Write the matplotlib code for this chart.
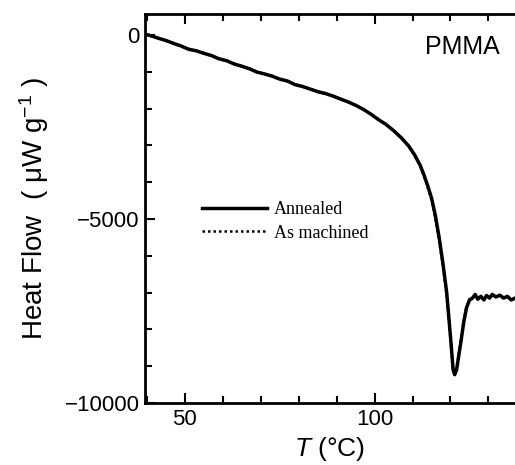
import numpy as np
import matplotlib.pyplot as plt
from matplotlib.ticker import MultipleLocator

plt.rcParams['font.family'] = ['Liberation Sans', 'DejaVu Sans']
plt.rcParams['mathtext.fontset'] = 'custom'
plt.rcParams['mathtext.rm'] = 'Liberation Sans'
plt.rcParams['mathtext.it'] = 'Liberation Sans:italic'

# DSC curves (T in degC, heat flow in uW/g)
temp = [39.5, 41, 43, 45, 47, 49, 51, 53, 55, 57, 59, 61, 63, 65, 67, 69, 71, 73,
        75, 77, 79, 81, 83, 85, 87, 89, 91, 93, 95, 97, 99, 101, 103, 105, 107, 109,
        110.5, 112, 113, 114, 115, 116, 117, 118, 119, 120, 120.7, 121.1, 121.6,
        122.2, 122.8, 123.5, 124.2, 125, 125.8, 126.5, 127.2, 128, 128.8, 129.5,
        130.3, 131, 132, 133, 134, 135, 136, 137]
annealed = [20, -20, -90, -150, -230, -300, -390, -430, -500, -560, -650, -700,
            -790, -850, -920, -1010, -1060, -1120, -1200, -1250, -1350, -1400,
            -1470, -1540, -1590, -1660, -1740, -1820, -1910, -2020, -2150, -2300,
            -2430, -2600, -2790, -3020, -3250, -3540, -3800, -4100, -4430, -4900,
            -5500, -6200, -7000, -8200, -9100, -9230, -9100, -8700, -8300, -7800,
            -7420, -7200, -7150, -7050, -7180, -7100, -7200, -7080, -7150, -7050,
            -7120, -7070, -7150, -7100, -7200, -7150]
as_machined = [10, -30, -80, -160, -220, -310, -380, -440, -490, -570, -640, -710,
               -780, -860, -910, -1000, -1070, -1110, -1210, -1260, -1340, -1410,
               -1460, -1550, -1600, -1650, -1750, -1810, -1920, -2010, -2160, -2290,
               -2440, -2590, -2800, -3030, -3270, -3560, -3830, -4150, -4480, -4980,
               -5580, -6280, -7080, -8250, -9120, -9200, -9060, -8650, -8250, -7760,
               -7400, -7190, -7120, -7080, -7150, -7120, -7170, -7100, -7130, -7080,
               -7100, -7090, -7130, -7120, -7180, -7160]

fig = plt.figure(figsize=(5.15, 4.65), dpi=100)
ax = fig.add_axes([0.2816, 0.1333, 0.7184, 0.8367])

ax.plot(temp, annealed, color='black', lw=2.5, solid_joinstyle='round', label='Annealed')
ax.plot(temp, as_machined, color='black', lw=1.8, linestyle=(0, (1, 1.2)), label='As machined')

ax.set_xlim(39.5, 137)
ax.set_ylim(-10000, 570)
ax.xaxis.set_major_locator(MultipleLocator(50))
ax.xaxis.set_minor_locator(MultipleLocator(10))
ax.yaxis.set_major_locator(MultipleLocator(5000))
ax.yaxis.set_minor_locator(MultipleLocator(1000))
ax.tick_params(which='both', direction='in', top=True, right=False, width=1.5,
               labelsize=16, pad=4)
ax.tick_params(which='major', length=7)
ax.tick_params(which='minor', length=5)
for side in ['left', 'bottom', 'top']:
    ax.spines[side].set_linewidth(2)
ax.spines['right'].set_visible(False)

ax.set_xlabel(r'$\mathit{T}$ (°C)', fontsize=19, labelpad=4)
ax.set_ylabel(r'Heat Flow  ( μW g$^{-1}$ )', fontsize=20, labelpad=10)

ax.text(0.959, 0.914, 'PMMA', transform=ax.transAxes, fontsize=18,
        ha='right', va='center')

leg = ax.legend(loc='upper left', bbox_to_anchor=(0.11, 0.56), frameon=False,
                handlelength=3.6, handletextpad=0.4, labelspacing=0.35,
                prop={'family': 'Liberation Serif', 'size': 13})

fig.savefig('out.png', dpi=100)
